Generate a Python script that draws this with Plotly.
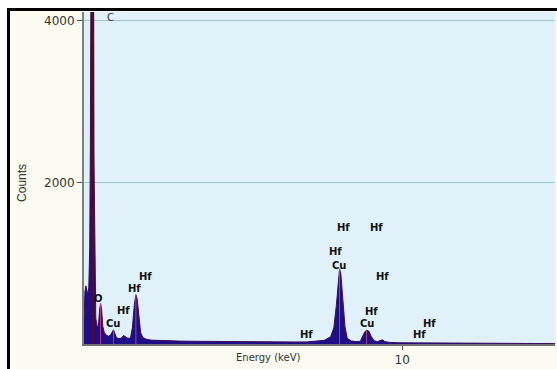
import plotly.graph_objects as go

# Spectrum (energy in keV, counts)
energy = [0.00, 0.03, 0.06, 0.09, 0.12, 0.15, 0.18, 0.20, 0.22, 0.25, 0.28, 0.31, 0.34, 0.37,
          0.41, 0.45, 0.49, 0.52, 0.55, 0.59, 0.64, 0.70, 0.78, 0.85, 0.90, 0.93, 0.97, 1.02,
          1.10, 1.18, 1.24, 1.30, 1.38, 1.46, 1.52, 1.58, 1.63, 1.67, 1.72, 1.78, 1.85, 1.95,
          2.10, 2.30, 2.60, 3.00, 3.40, 3.80, 4.20, 4.60, 5.00, 5.40, 5.80, 6.20, 6.60, 7.00,
          7.30, 7.55, 7.75, 7.85, 7.93, 8.00, 8.03, 8.07, 8.14, 8.20, 8.27, 8.40, 8.55, 8.68,
          8.76, 8.82, 8.88, 8.95, 9.03, 9.12, 9.22, 9.32, 9.38, 9.45, 9.60, 9.90, 10.30, 10.60,
          10.90, 11.30, 12.00, 13.00, 14.00, 14.80]
counts = [300, 650, 720, 640, 610, 700, 1200, 2475, 5200, 8000, 7000, 2400, 700, 320,
          230, 210, 420, 500, 440, 220, 140, 110, 95, 120, 160, 175, 130, 80,
          65, 75, 105, 85, 70, 75, 200, 480, 610, 560, 320, 140, 80, 60,
          48, 44, 40, 36, 34, 32, 30, 30, 28, 27, 26, 25, 25, 26,
          32, 45, 90, 200, 480, 850, 930, 870, 460, 220, 70, 38, 30, 32,
          100, 150, 170, 160, 90, 40, 30, 45, 52, 30, 20, 15, 14, 18,
          16, 12, 9, 7, 6, 5]

# Characteristic line markers drawn inside the peaks
line_energies = [0.28, 0.52, 0.93, 1.63, 8.03, 8.88]
line_heights = [8000, 500, 175, 610, 930, 170]

# Peak labels (text, energy keV, counts)
label_text = ["C", "O", "Cu", "Hf", "Hf", "Hf", "Hf", "Hf", "Hf", "Hf", "Cu", "Hf", "Hf", "Cu", "Hf", "Hf"]
label_x = [0.82, 0.47, 0.91, 1.23, 1.60, 1.92, 6.98, 8.14, 9.18, 7.89, 8.02, 9.37, 9.03, 8.90, 10.85, 10.53]
label_y = [4037, 561, 256, 415, 683, 841, 122, 1439, 1439, 1146, 976, 841, 402, 256, 256, 122]

y_ticks = [2000, 4000]
x_ticks = [10]

fig = go.Figure()
fig.add_trace(go.Scatter(
    x=energy, y=counts, mode="lines", fill="tozeroy",
    fillcolor="#1e0e88", line=dict(color="#3c0c5c", width=1), hoverinfo="skip"))

lx, ly = [], []
for e, h in zip(line_energies, line_heights):
    lx += [e, e, None]
    ly += [0, h, None]
fig.add_trace(go.Scatter(x=lx, y=ly, mode="lines",
                         line=dict(color="#b8406a", width=1), hoverinfo="skip"))
fig.add_trace(go.Scatter(x=[line_energies[0], line_energies[0]], y=[0, line_heights[0]],
                         mode="lines", line=dict(color="#5a0c14", width=2.5), hoverinfo="skip"))

annotations = []
for t, x, y in zip(label_text, label_x, label_y):
    bold = t != "C"
    annotations.append(dict(
        x=x, y=y, xref="x", yref="y", showarrow=False,
        text=f"<b>{t}</b>" if bold else t,
        font=dict(family="DejaVu Sans", size=10, color="#111111" if bold else "#333333"),
        xanchor="center", yanchor="middle"))

L, T, PW, PH = 84, 12, 471, 336  # plot area position/size in px

annotations.append(dict(x=(22 - L) / PW, y=(T + PH - 185) / PH, xref="paper", yref="paper",
                        showarrow=False, text="Counts", textangle=-90,
                        font=dict(family="Liberation Sans", size=12, color="#333333"),
                        xanchor="center", yanchor="middle"))
annotations.append(dict(x=(268 - L) / PW, y=(T + PH - 362) / PH, xref="paper", yref="paper",
                        showarrow=False, text="Energy (keV)",
                        font=dict(family="DejaVu Sans", size=10, color="#333333"),
                        xanchor="center", yanchor="middle"))

shapes = [
    dict(type="rect", xref="paper", yref="paper", x0=-0.3, x1=(7 - L) / PW, y0=-0.2, y1=1.2,
         fillcolor="white", line=dict(width=0), layer="above"),
    dict(type="rect", xref="paper", yref="paper", x0=-0.3, x1=1.2, y0=1 + (T - 8) / PH, y1=1.2,
         fillcolor="white", line=dict(width=0), layer="above"),
    dict(type="line", xref="paper", yref="paper", x0=(8.5 - L) / PW, x1=(8.5 - L) / PW,
         y0=-0.2, y1=1 + (T - 8) / PH, line=dict(color="black", width=3), layer="above"),
    dict(type="line", xref="paper", yref="paper", x0=(7 - L) / PW, x1=1.2,
         y0=1 + (T - 9.5) / PH, y1=1 + (T - 9.5) / PH, line=dict(color="black", width=3), layer="above"),
]

fig.update_layout(
    width=557, height=369,
    margin=dict(l=L, r=557 - L - PW, t=T, b=369 - T - PH),
    paper_bgcolor="#fbfbf2", plot_bgcolor="#e0f1fa",
    showlegend=False, hovermode=False,
    annotations=annotations, shapes=shapes,
    xaxis=dict(range=[0, 14.8], tickvals=x_ticks, ticktext=[str(v) for v in x_ticks],
               ticks="outside", ticklen=4, tickcolor="#555555", showgrid=False,
               showline=True, linecolor="#707070", linewidth=2, zeroline=False,
               tickfont=dict(family="DejaVu Sans", size=12, color="#333333")),
    yaxis=dict(range=[0, 4110], tickvals=y_ticks, ticktext=[str(v) for v in y_ticks],
               ticks="outside", ticklen=5, tickcolor="#555555",
               showgrid=True, gridcolor="#9fc6d8", gridwidth=1,
               showline=True, linecolor="#808080", linewidth=2, zeroline=False,
               tickfont=dict(family="DejaVu Sans", size=12, color="#333333")),
)

fig.write_html("out.html", config={"displayModeBar": False},
               post_script="document.body.style.margin='0';document.body.style.overflow='hidden';")
